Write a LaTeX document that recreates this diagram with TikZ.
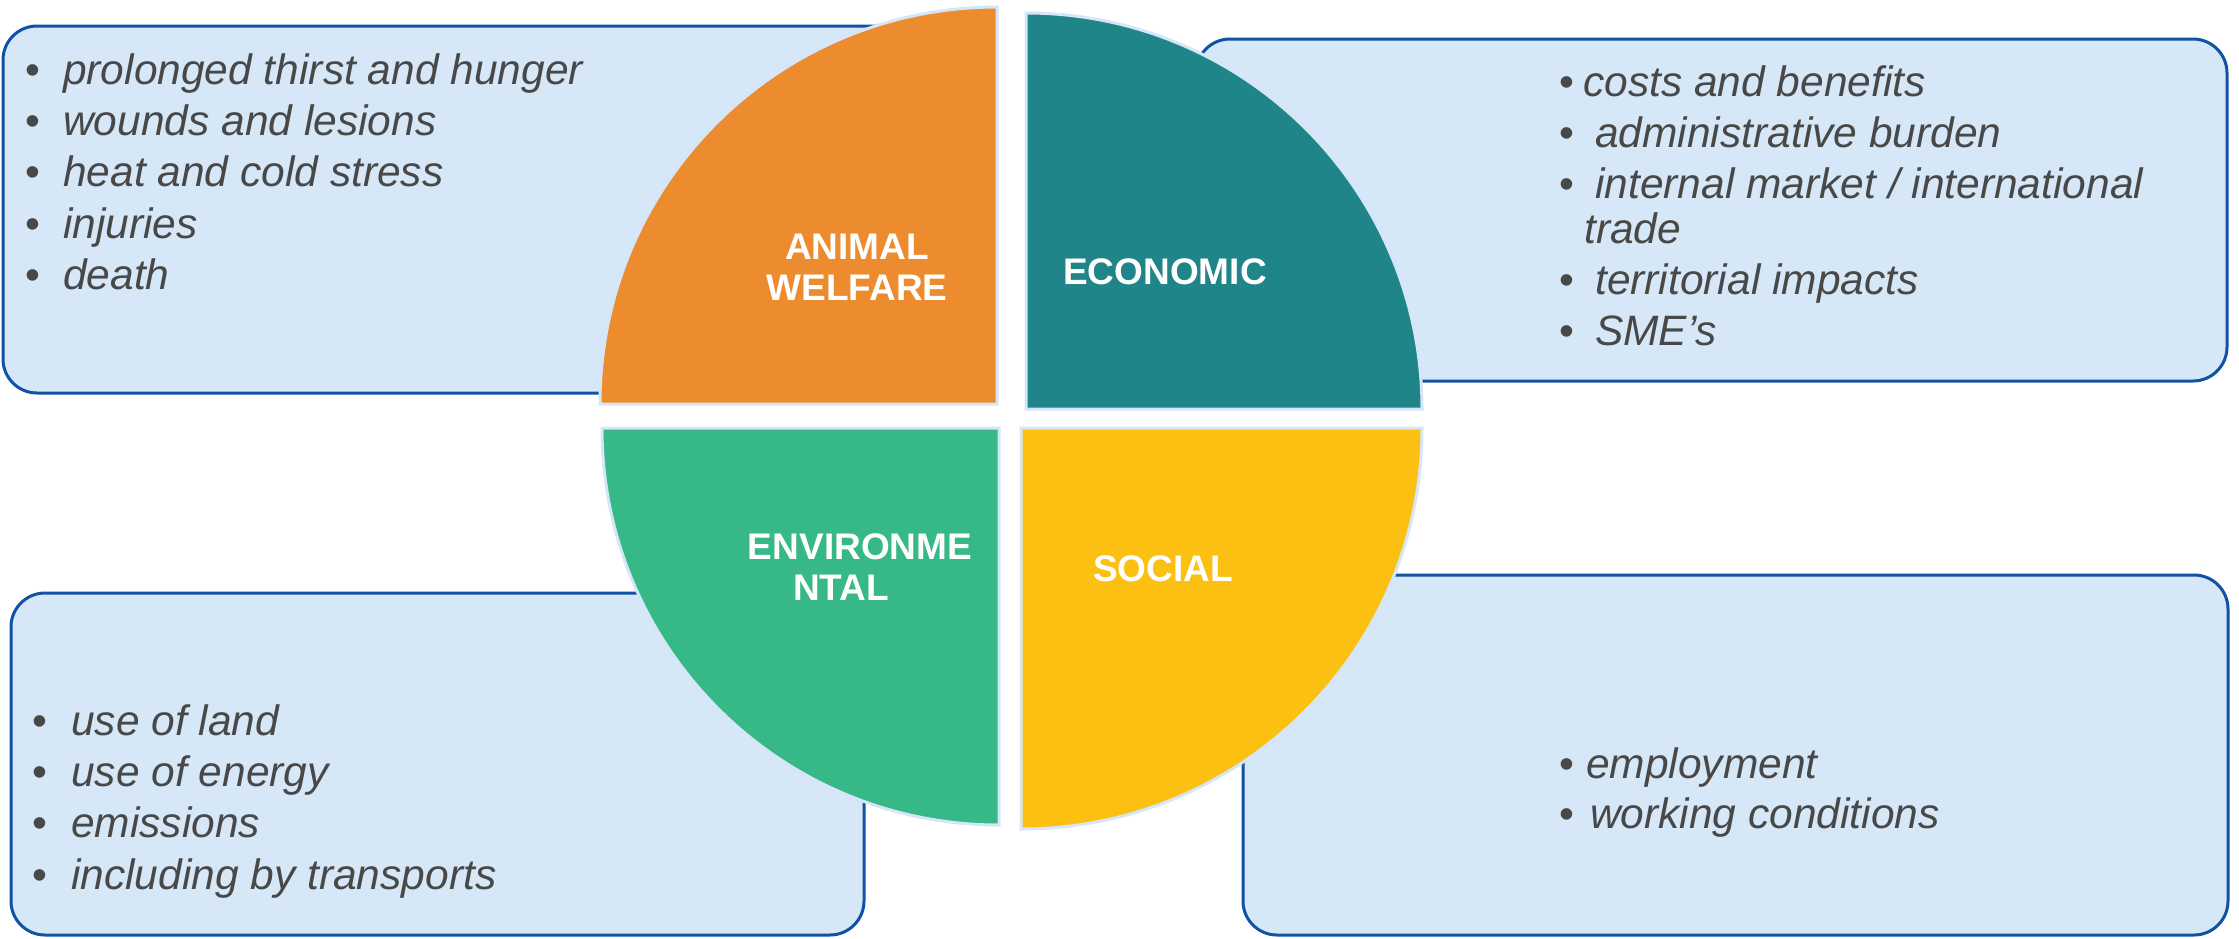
\documentclass[tikz,border=0pt]{standalone}
\usepackage{fontspec}
\setmainfont{Liberation Sans}
\definecolor{cOrange}{HTML}{EC8C2E}
\definecolor{cTeal}{HTML}{1F8589}
\definecolor{cGreen}{HTML}{36B887}
\definecolor{cYellow}{HTML}{FCC013}
\definecolor{boxfill}{HTML}{D6E8F7}
\definecolor{boxline}{HTML}{1152A4}
\definecolor{qline}{HTML}{D4E6F7}
\definecolor{txtgrey}{HTML}{484848}
\newcommand\mybul[1]{\makebox[#1][l]{\upshape\char"2022}}
\newcommand\lstrut{\rule{0pt}{40pt}}
\begin{document}
\begin{tikzpicture}[x=1pt,y=-1pt,
  infobox/.style={fill=boxfill,draw=boxline,line width=3pt,rounded corners=34pt},
  quad/.style={draw=qline,line width=3pt},
  caplabel/.style={inner sep=0pt,text=white,align=center,
    font=\fontsize{37}{41}\selectfont\bfseries},
  itemlist/.style={anchor=north west,inner sep=0pt,align=left,text=txtgrey,
    font=\fontsize{42.5}{51.3}\selectfont\itshape}]
\useasboundingbox (0,0) rectangle (2239,938);
% boxes
\path[infobox] (3,26) rectangle (960,393);
\path[infobox] (1196,39) rectangle (2227,381);
\path[infobox] (11,593) rectangle (864,935);
\path[infobox] (1243,575) rectangle (2228,935);
% list texts
\node[itemlist] (lw) at (25,44) {\lstrut\mybul{38pt}prolonged thirst and hunger\\
\mybul{38pt}wounds and lesions\\
\mybul{38pt}heat and cold stress\\
\mybul{38pt}injuries\\
\mybul{38pt}death};
\node[itemlist] (le) at (1559,56) {\lstrut\mybul{24pt}costs and benefits\\
\mybul{36pt}administrative burden\\
\mybul{36pt}internal market / international\\[-7pt]
\hspace*{25pt}trade\\
\mybul{36pt}territorial impacts\\
\mybul{36pt}SME’s};
\node[itemlist] (ln) at (32,695) {\lstrut\mybul{39pt}use of land\\
\mybul{39pt}use of energy\\
\mybul{39pt}emissions\\
\mybul{39pt}including by transports};
\node[itemlist] (ls) at (1559,738) {\lstrut\mybul{27pt}employment\\[-1pt]
\mybul{31pt}working conditions};
% quadrants
\path[quad,fill=cOrange] (997,404) -- (600,404) arc[start angle=180,end angle=270,radius=397] -- cycle;
\path[quad,fill=cTeal] (1026,409) -- (1026,13) arc[start angle=270,end angle=360,radius=396] -- cycle;
\path[quad,fill=cGreen] (999,428) -- (602,428) arc[start angle=180,end angle=90,radius=397] -- cycle;
\path[quad,fill=cYellow] (1021,428) -- (1422,428) arc[start angle=0,end angle=90,radius=401] -- cycle;
% labels
\node[caplabel] (aw) at (857,267.5) {ANIMAL\\WELFARE};
\node[caplabel] (ec) at (1165,272) {ECONOMIC};
\node[caplabel] (en) at (860,567) {ENVIRONME\\NTAL\hspace*{38pt}};
\node[caplabel] (so) at (1163,569) {SOCIAL};
\end{tikzpicture}
\end{document}
